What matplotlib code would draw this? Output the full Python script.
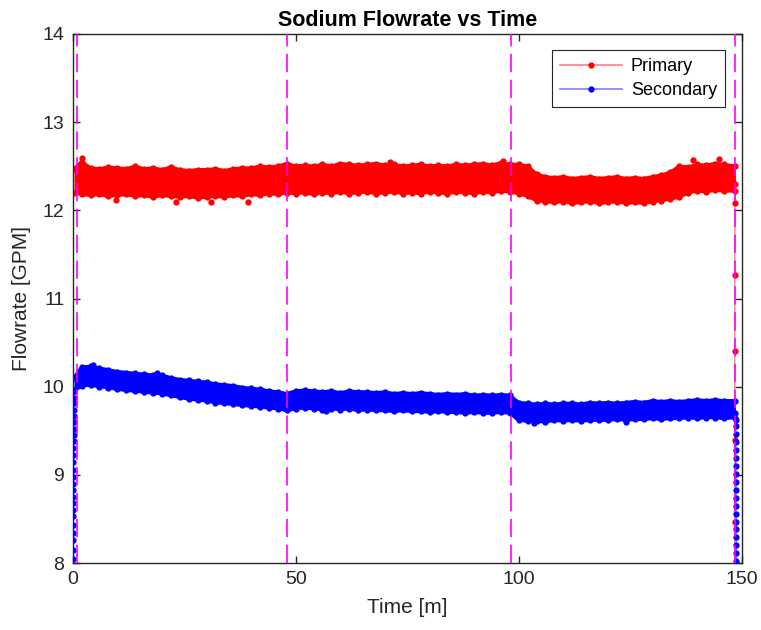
import numpy as np
import matplotlib.pyplot as plt
from matplotlib.lines import Line2D

plt.rcParams['font.family'] = ['Liberation Sans', 'DejaVu Sans']

# sample times of the band envelopes [min]
t_band = np.r_[0.3, np.arange(2, 148, 2), 148.6]

# primary loop flow, upper / lower envelope of the noisy record [GPM]
pri_hi = [12.47, 12.55, 12.48, 12.47, 12.49, 12.48, 12.47, 12.50, 12.47, 12.48,
          12.46, 12.49, 12.46, 12.45, 12.46, 12.46, 12.47, 12.45, 12.47, 12.48,
          12.48, 12.50, 12.49, 12.50, 12.53, 12.50, 12.51, 12.50, 12.52, 12.50,
          12.53, 12.52, 12.51, 12.52, 12.53, 12.51, 12.52, 12.50, 12.51, 12.52,
          12.50, 12.51, 12.50, 12.52, 12.51, 12.52, 12.53, 12.51, 12.54, 12.52,
          12.52, 12.50, 12.41, 12.38, 12.37, 12.38, 12.36, 12.37, 12.38, 12.36,
          12.37, 12.38, 12.36, 12.37, 12.36, 12.38, 12.40, 12.43, 12.50, 12.49,
          12.52, 12.51, 12.53, 12.52, 12.50]
pri_lo = [12.20, 12.18, 12.17, 12.18, 12.16, 12.17, 12.18, 12.16, 12.17, 12.15,
          12.17, 12.16, 12.15, 12.16, 12.14, 12.15, 12.16, 12.15, 12.17, 12.16,
          12.18, 12.17, 12.19, 12.18, 12.20, 12.19, 12.20, 12.18, 12.20, 12.19,
          12.21, 12.19, 12.20, 12.21, 12.19, 12.20, 12.21, 12.19, 12.20, 12.19,
          12.21, 12.20, 12.19, 12.21, 12.20, 12.19, 12.21, 12.20, 12.22, 12.21,
          12.19, 12.16, 12.11, 12.10, 12.09, 12.10, 12.08, 12.09, 12.10, 12.08,
          12.09, 12.10, 12.08, 12.09, 12.08, 12.10, 12.11, 12.13, 12.15, 12.20,
          12.22, 12.21, 12.23, 12.22, 12.22]

# secondary loop flow, upper / lower envelope [GPM]
sec_hi = [10.10, 10.22, 10.23, 10.21, 10.19, 10.17, 10.16, 10.15, 10.14, 10.13,
          10.13, 10.10, 10.08, 10.07, 10.06, 10.05, 10.03, 10.02, 10.01, 9.99,
          9.98, 9.97, 9.95, 9.94, 9.92, 9.95, 9.96, 9.95, 9.94, 9.95,
          9.93, 9.95, 9.94, 9.94, 9.93, 9.94, 9.92, 9.93, 9.92, 9.93,
          9.92, 9.91, 9.92, 9.91, 9.92, 9.90, 9.91, 9.90, 9.91, 9.90,
          9.82, 9.81, 9.80, 9.81, 9.80, 9.81, 9.81, 9.80, 9.82, 9.81,
          9.82, 9.81, 9.82, 9.83, 9.82, 9.84, 9.83, 9.84, 9.83, 9.84,
          9.85, 9.84, 9.85, 9.84, 9.84]
sec_lo = [9.95, 10.01, 10.02, 10.00, 9.99, 9.97, 9.96, 9.95, 9.94, 9.93,
          9.92, 9.90, 9.88, 9.86, 9.85, 9.84, 9.82, 9.81, 9.80, 9.79,
          9.78, 9.77, 9.76, 9.75, 9.73, 9.75, 9.76, 9.75, 9.74, 9.75,
          9.74, 9.75, 9.73, 9.74, 9.73, 9.73, 9.72, 9.73, 9.72, 9.72,
          9.71, 9.72, 9.71, 9.71, 9.70, 9.71, 9.70, 9.70, 9.71, 9.70,
          9.62, 9.61, 9.61, 9.60, 9.62, 9.61, 9.62, 9.61, 9.62, 9.62,
          9.62, 9.63, 9.62, 9.63, 9.63, 9.64, 9.63, 9.64, 9.64, 9.65,
          9.64, 9.65, 9.65, 9.64, 9.65]

# isolated excursions outside the band
pri_out_t = [2.0, 9.6, 23.1, 31.0, 39.4, 71.2, 96.5, 139.0, 145.0]
pri_out_v = [12.59, 12.12, 12.10, 12.10, 12.10, 12.55, 12.56, 12.57, 12.58]
sec_out_t = [4.5, 19.0, 56.7, 103.4, 124.0]
sec_out_v = [10.25, 10.15, 9.72, 9.59, 9.60]

# pump start-up (secondary) and shutdown (both loops)
sec_start_t = [0.02, 0.03, 0.04, 0.05, 0.06, 0.07, 0.08, 0.09, 0.10, 0.11, 0.12, 0.13,
               0.14, 0.15, 0.16, 0.17, 0.18, 0.19, 0.20, 0.21, 0.22, 0.24, 0.26, 0.28, 0.30]
sec_start_v = [8.04, 8.15, 8.26, 8.34, 8.43, 8.53, 8.60, 8.68, 8.75, 8.83, 8.90, 8.98,
               9.06, 9.14, 9.22, 9.30, 9.38, 9.45, 9.52, 9.60, 9.67, 9.74, 9.81, 9.87, 9.95]
pri_stop_t = [148.6, 148.5, 148.45, 148.45, 148.45, 148.45, 148.45]
pri_stop_v = [12.30, 12.08, 11.27, 10.41, 9.40, 8.46, 7.60]
sec_stop_t = [148.6, 148.61, 148.62, 148.63, 148.64, 148.65, 148.66, 148.67, 148.68, 148.69,
              148.70, 148.71, 148.72, 148.73, 148.74, 148.75, 148.76, 148.77, 148.78, 148.79]
sec_stop_v = [9.70, 9.62, 9.55, 9.46, 9.37, 9.28, 9.19, 9.10, 9.01, 8.92,
              8.83, 8.74, 8.65, 8.56, 8.47, 8.38, 8.29, 8.20, 8.11, 8.02]

# test segment boundaries [min]
t_events = [1.0, 48.1, 98.2, 148.6]

RED = (1, 0, 0)
BLUE = (0, 0, 1)
AX_GRAY = (0.15, 0.15, 0.15)


def draw_band(ax, hi, lo, out_t, out_v, color):
    ax.fill_between(t_band, lo, hi, color=color, lw=0, zorder=2)
    for edge in (hi, lo):
        ax.plot(t_band, edge, color=color, lw=2.5, marker='.', ms=7, zorder=2)
    ax.plot(out_t, out_v, '.', color=color, ms=7, zorder=2)


fig = plt.figure(figsize=(7.61, 6.30), dpi=100)
ax = fig.add_axes([72.7 / 761, 67 / 630, 669 / 761, 529 / 630])

draw_band(ax, pri_hi, pri_lo, pri_out_t, pri_out_v, RED)
ax.plot(pri_stop_t, pri_stop_v, color=(1, 0.3, 0.3, 0.7), lw=1, marker='.', ms=7,
        mfc=RED, mec=RED, zorder=2)

draw_band(ax, sec_hi, sec_lo, sec_out_t, sec_out_v, BLUE)
ax.plot(sec_start_t, sec_start_v, color=(0, 0, 1, 0.5), lw=1, marker='.', ms=7,
        mfc=BLUE, mec=BLUE, zorder=3)
ax.plot(sec_stop_t, sec_stop_v, color=(0, 0, 1, 0.5), lw=1, marker='.', ms=7,
        mfc=BLUE, mec=BLUE, zorder=3)

for te in t_events:
    ax.axvline(te, color=(1, 0, 1), lw=1.2, dashes=(11, 4.5), zorder=4)

ax.set_xlim(0, 150)
ax.set_ylim(8, 14)
ax.set_xticks([0, 50, 100, 150])
ax.set_yticks(range(8, 15))

for side in ax.spines.values():
    side.set_color(AX_GRAY)
    side.set_linewidth(1.0)
ax.tick_params(direction='in', length=5, width=1, color=AX_GRAY,
               labelcolor=AX_GRAY, labelsize=14, top=True, right=True, pad=6)

ax.set_xlabel('Time [m]', fontsize=15, color=AX_GRAY, labelpad=7)
ax.set_ylabel('Flowrate [GPM]', fontsize=15, color=AX_GRAY, labelpad=8)
ax.set_title('Sodium Flowrate vs Time', fontsize=15.5, fontweight='bold', pad=6)

handles = [
    Line2D([], [], color=(1, 0, 0, 0.5), lw=1.2, marker='.', ms=7, mfc=RED, mec=RED),
    Line2D([], [], color=(0, 0, 1, 0.5), lw=1.2, marker='.', ms=7, mfc=BLUE, mec=BLUE),
]
leg = ax.legend(handles, ['Primary', 'Secondary'], loc='upper right',
                bbox_to_anchor=(0.975, 0.97), borderaxespad=0, fancybox=False,
                framealpha=1, edgecolor=AX_GRAY, fontsize=13, handlelength=3.4,
                labelspacing=0.4, borderpad=0.45, handletextpad=0.5)
leg.get_frame().set_linewidth(0.8)

fig.savefig('out.png', dpi=100)
